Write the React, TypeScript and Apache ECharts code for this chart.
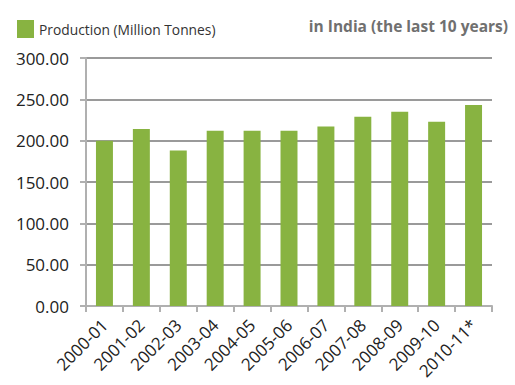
import React, { useEffect, useRef } from "react";
import * as echarts from "echarts";

const categories = ["2000-01", "2001-02", "2002-03", "2003-04", "2004-05", "2005-06", "2006-07", "2007-08", "2008-09", "2009-10", "2010-11*"];
const production = [200, 214, 188, 212, 212, 212, 217, 229, 235, 223, 243];
const yTicks = [0, 50, 100, 150, 200, 250, 300];

export default function App() {
  const ref = useRef<HTMLDivElement>(null);
  useEffect(() => {
    if (!ref.current) return;
    const chart = echarts.init(ref.current, null, { renderer: "svg" });
    const font = "'Open Sans', sans-serif";
    chart.setOption({
      animation: false,
      textStyle: { fontFamily: font },
      title: {
        text: "in India (the last 10 years)",
        right: 2,
        top: 13,
        textStyle: { fontFamily: font, fontSize: 15.5, fontWeight: "bold", color: "#707070" },
      },
      legend: {
        left: 12,
        top: 15,
        itemWidth: 17,
        itemHeight: 18,
        itemGap: 8,
        icon: "rect",
        textStyle: { fontFamily: font, fontSize: 13.8, color: "#333" },
        data: ["Production (Million Tonnes)"],
      },
      grid: { left: 86, right: 23, top: 58, bottom: 79 },
      xAxis: {
        type: "category",
        data: categories,
        axisLine: { lineStyle: { color: "#b0b0b0", width: 2 } },
        axisTick: { show: true, length: 6, lineStyle: { color: "#b0b0b0", width: 2 } },
        axisLabel: { rotate: 45, fontSize: 17, color: "#222", margin: 16, fontFamily: font },
      },
      yAxis: {
        type: "value",
        min: yTicks[0],
        max: yTicks[yTicks.length - 1],
        interval: 50,
        axisLine: { show: true, lineStyle: { color: "#b0b0b0", width: 2 } },
        axisTick: { show: true, length: 6, lineStyle: { color: "#b0b0b0", width: 2 } },
        axisLabel: {
          fontSize: 17,
          color: "#222",
          margin: 17,
          fontFamily: font,
          formatter: (v: number) => v.toFixed(2),
        },
        splitLine: { lineStyle: { color: "#9a9a9a", width: 2 } },
      },
      series: [
        {
          name: "Production (Million Tonnes)",
          type: "bar",
          data: production,
          barWidth: "46%",
          itemStyle: { color: "#88b341" },
        },
      ],
    });
    return () => chart.dispose();
  }, []);
  return <div ref={ref} style={{ width: 515, height: 385, position: "absolute", left: 0, top: 0 }} />;
}
